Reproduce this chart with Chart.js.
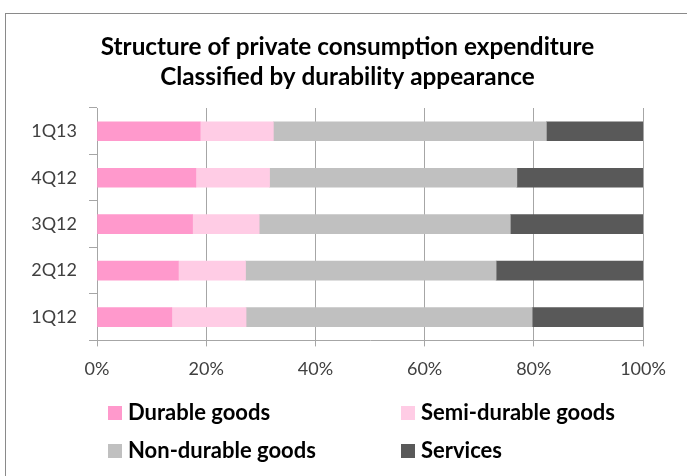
<!DOCTYPE html>
<html>
<head>
<meta charset="utf-8">
<script src="https://cdn.jsdelivr.net/npm/chart.js@4.4.1/dist/chart.umd.min.js"></script>
<style>
  html, body { margin: 0; padding: 0; background: #fff; }
  #wrap { position: relative; width: 687px; height: 476px; overflow: hidden; }
  #frame { position: absolute; left: 5px; top: 13px; width: 700px; height: 500px;
           border-left: 1px solid #8a8a8a; border-top: 1px solid #8a8a8a; }
  canvas { position: absolute; left: 0; top: 0; }
  .lg { position: absolute; font-family: Lato, "Open Sans", sans-serif; font-weight: bold;
        font-size: 22px; line-height: 26.4px; color: #000; white-space: nowrap; }
  .lg .sw { position: absolute; left: 0; top: 7px; width: 14px; height: 14px; }
  .lg .tx { position: absolute; left: 20px; top: 0; }
</style>
</head>
<body>
<div id="wrap">
  <div id="frame"></div>
  <canvas id="c" width="687" height="476"></canvas>
  <div id="legend"></div>
</div>
<script>
const categories = ['1Q12', '2Q12', '3Q12', '4Q12', '1Q13'];
const seriesNames = ['Durable goods', 'Semi-durable goods', 'Non-durable goods', 'Services'];
const durable     = [13.7, 14.9, 17.5, 18.1, 18.9];
const semiDurable = [13.6, 12.3, 12.2, 13.5, 13.4];
const nonDurable  = [52.4, 45.9, 46.0, 45.3, 50.0];
const services    = [20.3, 26.9, 24.3, 23.1, 17.7];
const xTicks = [0, 20, 40, 60, 80, 100];
const colors = ['#FF99CC', '#FFCCE5', '#C0C0C0', '#595959'];
const titleLines = ['Structure of private consumption expenditure', 'Classified by durability appearance'];

const values = [durable, semiDurable, nonDurable, services];
const datasets = seriesNames.map((n, i) => ({
  label: n,
  data: values[i],
  backgroundColor: colors[i],
  borderWidth: 0,
  barThickness: 19
}));

// shift the title block so it is centred like the original (centre ~348px)
const titleShift = {
  id: 'titleShift',
  afterLayout(chart) {
    const t = chart.titleBlock;
    if (t) { t.left = 52; t.width = t.right - t.left; }
  }
};

const chart = new Chart(document.getElementById('c'), {
  type: 'bar',
  data: { labels: categories, datasets },
  plugins: [titleShift],
  options: {
    indexAxis: 'y',
    responsive: false,
    animation: false,
    devicePixelRatio: 1,
    layout: { padding: { left: 0, right: 44, top: 17, bottom: 84 } },
    plugins: {
      legend: { display: false },
      tooltip: { enabled: false },
      title: {
        display: true,
        text: titleLines,
        color: '#000',
        font: { family: 'Lato, "Open Sans", sans-serif', size: 24.3, weight: 'bold', lineHeight: 30 / 24.3 },
        padding: { top: 15, bottom: 16 }
      }
    },
    scales: {
      x: {
        stacked: true,
        min: 0, max: 100,
        afterBuildTicks: (s) => { s.ticks = xTicks.map(v => ({ value: v })); },
        ticks: {
          callback: (v) => v + '%',
          color: '#404040',
          font: { family: 'Lato, "Open Sans", sans-serif', size: 18 },
          padding: 12,
          maxRotation: 0
        },
        grid: { color: '#A6A6A6', lineWidth: 1, tickLength: 6, drawTicks: true },
        border: { color: '#A6A6A6', width: 1 }
      },
      y: {
        stacked: true,
        reverse: true,
        afterFit: (s) => { s.width = 97; },
        ticks: {
          color: '#404040',
          font: { family: 'Lato, "Open Sans", sans-serif', size: 18 },
          padding: 12
        },
        grid: { drawOnChartArea: false, drawTicks: true, tickLength: 8, color: '#A6A6A6', offset: true },
        border: { color: '#A6A6A6', width: 1 }
      }
    }
  }
});

// HTML legend built from the datasets
const legendPos = [
  { left: 108, top: 399 },
  { left: 401, top: 399 },
  { left: 108, top: 437 },
  { left: 401, top: 437 }
];
const lg = document.getElementById('legend');
chart.data.datasets.forEach((ds, i) => {
  const d = document.createElement('div');
  d.className = 'lg';
  d.style.left = legendPos[i].left + 'px';
  d.style.top = legendPos[i].top + 'px';
  const sw = document.createElement('span');
  sw.className = 'sw';
  sw.style.background = ds.backgroundColor;
  const tx = document.createElement('span');
  tx.className = 'tx';
  tx.textContent = ds.label;
  d.appendChild(sw); d.appendChild(tx);
  lg.appendChild(d);
});
</script>
</body>
</html>
